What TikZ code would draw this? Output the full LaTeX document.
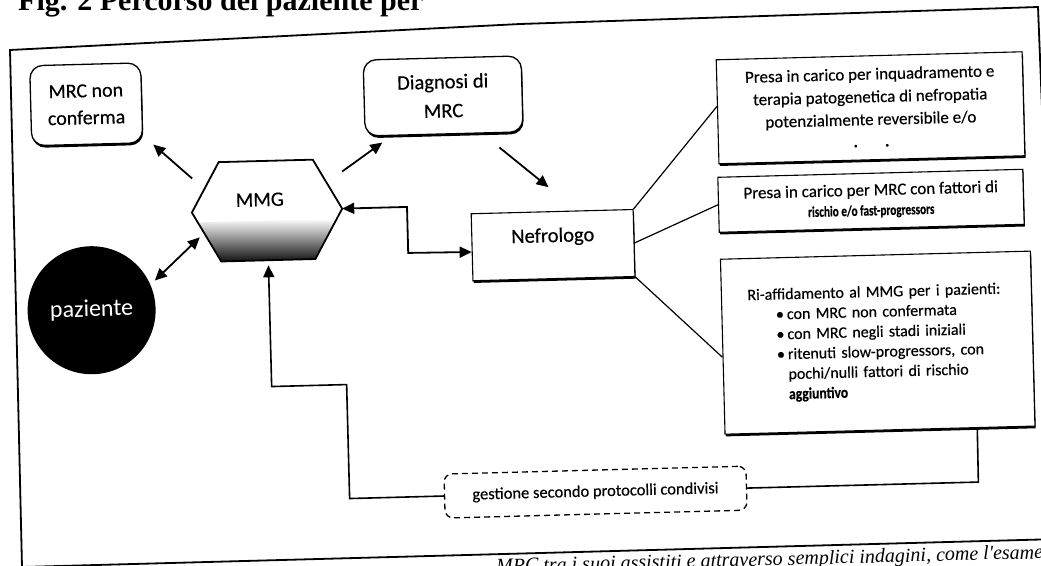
\documentclass[tikz,border=0pt]{standalone}
\usepackage{fontspec}
\setmainfont{Carlito}[FakeBold=0.35]
\newfontfamily\plainfont{Carlito}
\newfontfamily\serifcap{Liberation Serif}
\usepackage{graphicx}
\usetikzlibrary{arrows.meta,shadows,calc}
\begin{document}
\begin{tikzpicture}[x=1pt,y=-1pt,
  shad/.style={drop shadow={shadow xshift=0.8pt, shadow yshift=-2.2pt, opacity=1, fill=black}},
  rbox/.style={draw, line width=1.3pt, rounded corners=13pt, fill=white, shad, inner sep=0pt, align=center},
  sqbox/.style={draw, line width=1.1pt, fill=white, shad, inner sep=0pt, align=center},
  arr/.style={line width=1.8pt, -{Triangle[length=12pt,width=11pt]}},
  darr/.style={line width=1.8pt, {Triangle[length=12pt,width=11pt]}-{Triangle[length=12pt,width=11pt]}},
  conn/.style={line width=1.2pt},
  elb/.style={line width=1.6pt, line join=miter},
  frame/.style={line width=1.8pt, line join=miter},
  dashbox/.style={draw, line width=1.3pt, rounded corners=8pt, dash pattern=on 6pt off 4pt, inner sep=0pt},
]
\useasboundingbox (0,0) rectangle (1041,565);

% title (cut by the top edge)
\node[anchor=base west, inner sep=0pt, font=\serifcap\bfseries\fontsize{30pt}{30pt}\selectfont] (title) at (18,10) {Fig. 2 Percorso del paziente per};

% outer frame
\draw[frame] (10,50) -- (520,24) -- (1038,7) -- (1059,539) -- (22,567) -- cycle;

\begin{scope}[rotate around={1.5:(520,282)}, transform shape]

\node[rbox, font=\fontsize{20pt}{27pt}\selectfont, minimum width=111pt, minimum height=80pt] (mrcnc) at (91,93) {MRC non\\conferma};
\node[rbox, font=\fontsize{20.5pt}{29pt}\selectfont, minimum width=158pt, minimum height=76pt] (diag) at (448,94) {Diagnosi di\\MRC};

% MMG hexagon
\node[inner sep=0pt, minimum width=150pt, minimum height=99pt, font=\fontsize{20.5pt}{24pt}\selectfont, text height=14pt, text depth=23pt] (mmg) at (269,204) {MMG\hspace*{14pt}};
\coordinate (h1) at ($(mmg.north west)!0.187!(mmg.north east)$);
\coordinate (h2) at ($(mmg.north east)!0.187!(mmg.north west)$);
\coordinate (h3) at ($(mmg.south east)!0.187!(mmg.south west)$);
\coordinate (h4) at ($(mmg.south west)!0.187!(mmg.south east)$);
\begin{scope}
  \clip (mmg.west) -- (h1) -- (h2) -- (mmg.east) -- (h3) -- (h4) -- cycle;
  \shade[top color=white, middle color=black!30, bottom color=black] (190,214) rectangle (350,256);
\end{scope}
\draw[line width=1.8pt, line join=miter] (mmg.west) -- (h1) -- (h2) -- (mmg.east) -- (h3) -- (h4) -- cycle;

\node[circle, fill=black, minimum size=128pt, inner sep=0pt, text=white, font=\plainfont\fontsize{24pt}{24pt}\selectfont] (paz) at (91,299) {paziente};

\node[sqbox, minimum width=162pt, minimum height=67pt, font=\fontsize{20.5pt}{24pt}\selectfont, text height=15pt, text depth=21pt] (nefro) at (554,246) {Nefrologo};

\node[sqbox, minimum width=306pt, minimum height=104pt, font=\fontsize{17pt}{22.7pt}\selectfont] (p1) at (875,117) {Presa in carico per inquadramento e\\terapia patogenetica di nefropatia\\potenzialmente reversibile e/o\\{\fontsize{7pt}{7pt}\selectfont\textbullet\hspace{28pt}\textbullet}};

\node[sqbox, minimum width=305pt, minimum height=55pt, font=\fontsize{17pt}{20pt}\selectfont] (p2) at (873,210) {Presa in carico per MRC con fattori di\\\scalebox{0.66}[0.88]{\bfseries rischio e/o fast-progressors}};

\node[sqbox, minimum width=310pt, minimum height=175pt, font=\fontsize{16pt}{20pt}\selectfont, text width=262pt, align=left] (ri) at (876,352) {\hspace*{2pt}Ri-affidamento al MMG per i pazienti:\\
\hspace*{30pt}\makebox[11pt][l]{\textbullet}con MRC non confermata\\
\hspace*{30pt}\makebox[11pt][l]{\textbullet}con MRC negli stadi iniziali\\
\hspace*{30pt}\makebox[11pt][l]{\textbullet}ritenuti slow-progressors, con\\
\hspace*{41pt}pochi/nulli fattori di rischio\\
\hspace*{41pt}\scalebox{0.85}[1]{\bfseries aggiuntivo}\\[10pt]};

\node[dashbox, minimum width=302pt, minimum height=44pt, font=\fontsize{16.5pt}{18pt}\selectfont] (gest) at (590,494) {gestione secondo protocolli condivisi};

% caption (cut by the bottom edge)
\node[anchor=base east, inner sep=0pt, font=\serifcap\itshape\fontsize{20pt}{20pt}\selectfont] (cap) at (1036,572) {MRC tra i suoi assistiti e attraverso semplici indagini, come l'esame};

% short free arrows
\coordinate (a1s) at (195,170); \coordinate (a1e) at (157,135);
\coordinate (a2s) at (345,167); \coordinate (a2e) at (386,139);
\coordinate (a3s) at (503,147); \coordinate (a3e) at (551,188);
\coordinate (a4s) at (201,229); \coordinate (a4e) at (155,271);
\draw[arr] (a1s) -- (a1e);
\draw[arr] (a2s) -- (a2e);
\draw[arr] (a3s) -- (a3e);
\draw[darr] (a4s) -- (a4e);

% MMG <-> Nefrologo
\draw[darr, line join=miter] (mmg.east) -- (409,204) -- (409,250) -- ($(nefro.south west)!0.43!(nefro.north west)$);

% Nefrologo to the three outcomes
\draw[conn] (nefro.north east) -- ($(p1.south west)!0.55!(p1.north west)$);
\draw[conn] (nefro.east) -- (p2.west);
\draw[conn] (nefro.south east) -- ($(ri.south west)!0.44!(ri.north west)$);

% return path
\draw[elb] ($(ri.south west)!0.813!(ri.south east)$) -- (973,494) -- (gest.east);
\draw[elb, -{Triangle[length=12pt,width=11pt]}, shorten >=5pt] (gest.west) -- (344,494) -- (344,380) -- (269,380) -- (mmg.south);

\end{scope}
\end{tikzpicture}
\end{document}
